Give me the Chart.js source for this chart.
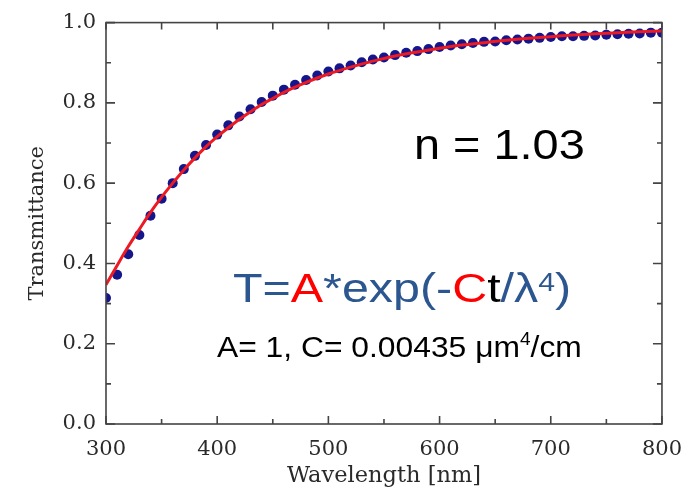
<!DOCTYPE html>
<html>
<head>
<meta charset="utf-8">
<script src="https://cdn.jsdelivr.net/npm/chart.js@4.4.1/dist/chart.umd.min.js"></script>
<style>
html,body{margin:0;padding:0;background:#fff;}
#wrap{width:695px;height:490px;position:relative;}
</style>
</head>
<body>
<div id="wrap"><canvas id="c" width="695" height="490"></canvas></div>
<script>
// Measured data points (wavelength in nm, transmittance)
const wavelengths = [300,310,320,330,340,350,360,370,380,390,400,410,420,430,440,450,460,470,480,490,500,510,520,530,540,550,560,570,580,590,600,610,620,630,640,650,660,670,680,690,700,710,720,730,740,750,760,770,780,790,800];
const transmittance = [0.314,0.372,0.423,0.471,0.519,0.561,0.600,0.635,0.668,0.695,0.721,0.744,0.766,0.784,0.802,0.818,0.833,0.845,0.857,0.868,0.878,0.886,0.893,0.901,0.908,0.913,0.919,0.925,0.929,0.934,0.939,0.943,0.946,0.949,0.952,0.953,0.956,0.958,0.960,0.962,0.964,0.966,0.966,0.967,0.968,0.970,0.971,0.972,0.973,0.975,0.975];
// Fit curve
const fitWavelengths = [300,310,320,330,340,350,360,370,380,390,400,410,420,430,440,450,460,470,480,490,500,520,540,560,580,600,620,640,660,680,700,720,740,760,780,800];
const fitTransmittance = [0.347,0.395,0.442,0.485,0.527,0.565,0.600,0.633,0.663,0.691,0.716,0.738,0.759,0.778,0.796,0.811,0.826,0.839,0.851,0.862,0.872,0.889,0.904,0.917,0.927,0.936,0.944,0.950,0.956,0.961,0.965,0.969,0.972,0.975,0.977,0.979];
// Axis ticks
const xMajorTicks = [300,400,500,600,700,800];
const xMinorTicks = [350,450,550,650,750];
const yMajorTicks = [0,0.2,0.4,0.6,0.8,1.0];
const yMinorTicks = [0.1,0.3,0.5,0.7,0.9];

const serif = "'DejaVu Serif', serif";
const sans = "'Liberation Sans', Arial, sans-serif";

function drawRun(ctx, x0, base, sx, segs) {
  ctx.save();
  ctx.translate(x0, base);
  ctx.scale(sx, 1);
  let x = 0;
  segs.forEach(s => {
    ctx.font = s.size + 'px ' + sans;
    ctx.fillStyle = s.color;
    ctx.fillText(s.text, x, -(s.rise || 0));
    x += ctx.measureText(s.text).width;
  });
  ctx.restore();
}

const framePlugin = {
  id: 'frame',
  afterDraw(chart) {
    const ctx = chart.ctx;
    const a = chart.chartArea;
    const xs = chart.scales.x, ys = chart.scales.y;
    ctx.save();
    ctx.strokeStyle = '#444';
    ctx.lineWidth = 1.6;
    ctx.strokeRect(a.left, a.top, a.right - a.left, a.bottom - a.top);
    ctx.beginPath();
    xMajorTicks.forEach(v => {
      const p = xs.getPixelForValue(v);
      ctx.moveTo(p, a.bottom); ctx.lineTo(p, a.bottom - 8);
      ctx.moveTo(p, a.top); ctx.lineTo(p, a.top + 7);
    });
    xMinorTicks.forEach(v => {
      const p = xs.getPixelForValue(v);
      ctx.moveTo(p, a.bottom); ctx.lineTo(p, a.bottom - 5);
      ctx.moveTo(p, a.top); ctx.lineTo(p, a.top + 7);
    });
    yMajorTicks.forEach(v => {
      const p = ys.getPixelForValue(v);
      ctx.moveTo(a.left, p); ctx.lineTo(a.left + 9, p);
      ctx.moveTo(a.right, p); ctx.lineTo(a.right - 9, p);
    });
    yMinorTicks.forEach(v => {
      const p = ys.getPixelForValue(v);
      ctx.moveTo(a.left, p); ctx.lineTo(a.left + 5, p);
      ctx.moveTo(a.right, p); ctx.lineTo(a.right - 5, p);
    });
    ctx.stroke();
    ctx.restore();

    ctx.save();
    ctx.textBaseline = 'alphabetic';
    ctx.textAlign = 'left';
    const blue = '#2c5690', red = '#ff0000', black = '#000';
    drawRun(ctx, 414, 159, 1.09, [{text: 'n = 1.03', size: 43, color: black}]);
    const F = 40;
    drawRun(ctx, 233, 302, 1.21, [
      {text: 'T', size: F, color: blue}, {text: '=', size: F, color: blue},
      {text: 'A', size: F, color: red}, {text: '*', size: F, color: blue},
      {text: 'exp(-', size: F, color: blue}, {text: 'C', size: F, color: red},
      {text: 't', size: F, color: black}, {text: '/', size: F, color: blue},
      {text: '\u03BB', size: F, color: blue}, {text: '4', size: 25, color: blue, rise: 11},
      {text: ')', size: F, color: blue}
    ]);
    drawRun(ctx, 217, 357, 1.06, [
      {text: 'A= 1, C= 0.00435 ', size: 30, color: black},
      {text: '\u03BCm', size: 30, color: black},
      {text: '4', size: 18, color: black, rise: 12},
      {text: '/cm', size: 30, color: black}
    ]);
    ctx.restore();
  }
};

new Chart(document.getElementById('c'), {
  type: 'line',
  data: {
    datasets: [
      {
        label: 'Fit',
        data: fitWavelengths.map((w, i) => ({x: w, y: fitTransmittance[i]})),
        borderColor: '#ec1a22',
        borderWidth: 3,
        pointRadius: 0,
        cubicInterpolationMode: 'monotone',
        fill: false
      },
      {
        label: 'Measured',
        data: wavelengths.map((w, i) => ({x: w, y: transmittance[i]})),
        showLine: false,
        pointRadius: 5,
        pointBackgroundColor: '#15158c',
        pointBorderColor: '#15158c',
        pointBorderWidth: 0
      }
    ]
  },
  options: {
    responsive: false,
    animation: false,
    devicePixelRatio: 1,
    layout: {padding: {left: 0, right: 32, top: 17, bottom: 0}},
    plugins: {legend: {display: false}, tooltip: {enabled: false}},
    scales: {
      x: {
        type: 'linear', min: 300, max: 800,
        afterBuildTicks(s) { s.ticks = xMajorTicks.map(v => ({value: v})); },
        ticks: {font: {family: serif, size: 21}, color: '#2a2a2a', padding: 13, maxRotation: 0},
        grid: {display: false, drawTicks: false},
        border: {display: false},
        title: {display: true, text: 'Wavelength [nm]', font: {family: serif, size: 22.5}, color: '#2a2a2a', padding: {top: 0, bottom: 0}},
        afterFit(s) { s.height = 66; }
      },
      y: {
        type: 'linear', min: 0, max: 1,
        afterBuildTicks(s) { s.ticks = yMajorTicks.map(v => ({value: v})); },
        ticks: {font: {family: serif, size: 21}, color: '#2a2a2a', padding: 10, callback: v => v.toFixed(1)},
        grid: {display: false, drawTicks: false},
        border: {display: false},
        title: {display: true, text: 'Transmittance', font: {family: serif, size: 21}, color: '#2a2a2a', padding: {top: 25, bottom: 0}},
        afterFit(s) { s.width = 106; }
      }
    }
  },
  plugins: [framePlugin]
});
</script>
</body>
</html>
